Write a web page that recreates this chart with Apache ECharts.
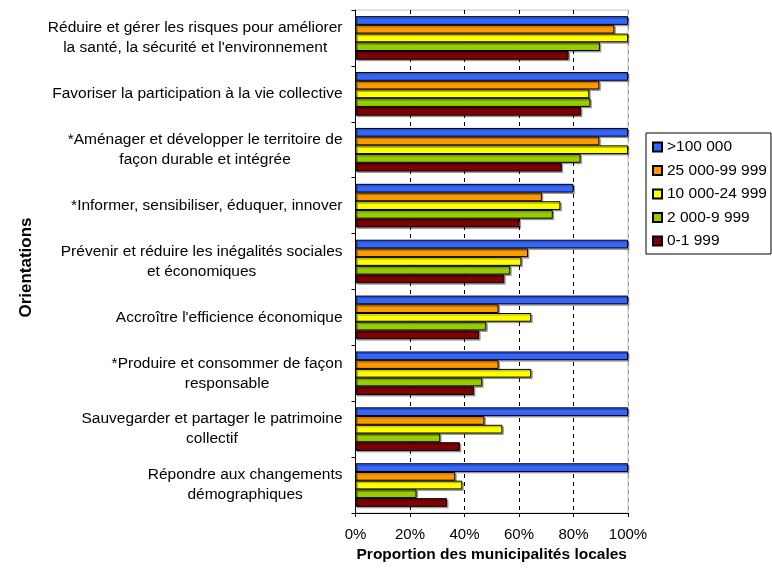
<!DOCTYPE html>
<html>
<head>
<meta charset="utf-8">
<script src="https://cdn.jsdelivr.net/npm/echarts@6/dist/echarts.min.js"></script>
<style>
html,body{margin:0;padding:0;background:#fff;}
#chart{width:772px;height:570px;}
</style>
</head>
<body>
<div id="chart"></div>
<script>
const categories = [
  "Réduire et gérer les risques pour améliorer\nla santé, la sécurité et l'environnement",
  "Favoriser la participation à la vie collective",
  "*Aménager et développer le territoire de\nfaçon durable et intégrée",
  "*Informer, sensibiliser, éduquer, innover",
  "Prévenir et réduire les inégalités sociales\net économiques",
  "Accroître l'efficience économique",
  "*Produire et consommer de façon\nresponsable",
  "Sauvegarder et partager le patrimoine\ncollectif",
  "Répondre aux changements\ndémographiques"
];
const seriesNames = [">100 000", "25 000-99 999", "10 000-24 999", "2 000-9 999", "0-1 999"];
const over100k   = [1.00, 1.00, 1.00, 0.80, 1.00, 1.00, 1.00, 1.00, 1.00];
const s25to99k   = [0.95, 0.895, 0.895, 0.684, 0.633, 0.525, 0.525, 0.473, 0.366];
const s10to24k   = [1.00, 0.858, 1.00, 0.752, 0.609, 0.645, 0.645, 0.539, 0.392];
const s2to9k     = [0.897, 0.862, 0.826, 0.724, 0.568, 0.480, 0.465, 0.311, 0.224];
const s0to1999   = [0.782, 0.828, 0.757, 0.602, 0.546, 0.454, 0.435, 0.383, 0.336];
const xTicks = [0, 0.2, 0.4, 0.6, 0.8, 1.0];

const colors = ["#3366FF", "#FF9900", "#FFFF00", "#99CC00", "#800000"];
const allData = [over100k, s25to99k, s10to24k, s2to9k, s0to1999];
const FONT = "Liberation Sans, Arial, sans-serif";

const chart = echarts.init(document.getElementById('chart'), null, {renderer: 'canvas'});
chart.setOption({
  animation: false,
  textStyle: {fontFamily: FONT},
  grid: {left: 355.5, right: 144, top: 10, bottom: 57, show: true, borderColor: '#c0c0c0', borderWidth: 1, backgroundColor: 'transparent'},
  legend: {
    orient: 'vertical', left: 646, top: 133,
    padding: [6, 4, 5, 6],
    itemWidth: 9, itemHeight: 9, itemGap: 7.5,
    icon: 'rect',
    borderColor: '#000', borderWidth: 1,
    textStyle: {fontSize: 15.5, color: '#000', fontFamily: FONT},
    data: seriesNames
  },
  xAxis: {
    type: 'value', min: xTicks[0], max: xTicks[xTicks.length - 1], interval: 0.2,
    name: 'Proportion des municipalités locales',
    nameLocation: 'middle', nameGap: 28,
    nameTextStyle: {fontSize: 15.5, fontWeight: 'bold', color: '#000', fontFamily: FONT},
    axisLine: {show: true, lineStyle: {color: '#000', width: 1}},
    axisTick: {show: true, length: 4, lineStyle: {color: '#000'}},
    axisLabel: {fontSize: 15, color: '#000', margin: 14, formatter: v => Math.round(v * 100) + '%'},
    splitLine: {show: true, lineStyle: {color: ['#000', '#000', '#000', '#000', '#000', '#a0a0a0'], type: [4, 4], width: 1}}
  },
  yAxis: {
    type: 'category', inverse: true, data: categories,
    name: 'Orientations', nameLocation: 'middle', nameRotate: 90, nameGap: 321,
    nameTextStyle: {fontSize: 17, fontWeight: 'bold', color: '#000', fontFamily: FONT, padding: [0, 12, 0, 0]},
    axisLine: {show: true, lineStyle: {color: '#000', width: 1}},
    axisTick: {show: true, length: 4, alignWithLabel: false, lineStyle: {color: '#000'}},
    axisLabel: {
      margin: 13, color: '#000', fontSize: 15.5, interval: 0,
      formatter: v => v.split('\n').map(l => '{a|' + l + '}').join('\n'),
      rich: {a: {align: 'center', fontSize: 15.5, lineHeight: 20, color: '#000', fontFamily: FONT}}
    },
    splitLine: {show: false}
  },
  series: allData.map((d, i) => ({
    name: seriesNames[i], type: 'bar', data: d,
    barGap: '0%', barCategoryGap: '22%',
    itemStyle: {color: colors[i], borderColor: '#000', borderWidth: 1,
      shadowColor: 'rgba(0,0,0,0.3)', shadowOffsetX: 1.5, shadowOffsetY: 1.5, shadowBlur: 0}
  }))
});
</script>
</body>
</html>
